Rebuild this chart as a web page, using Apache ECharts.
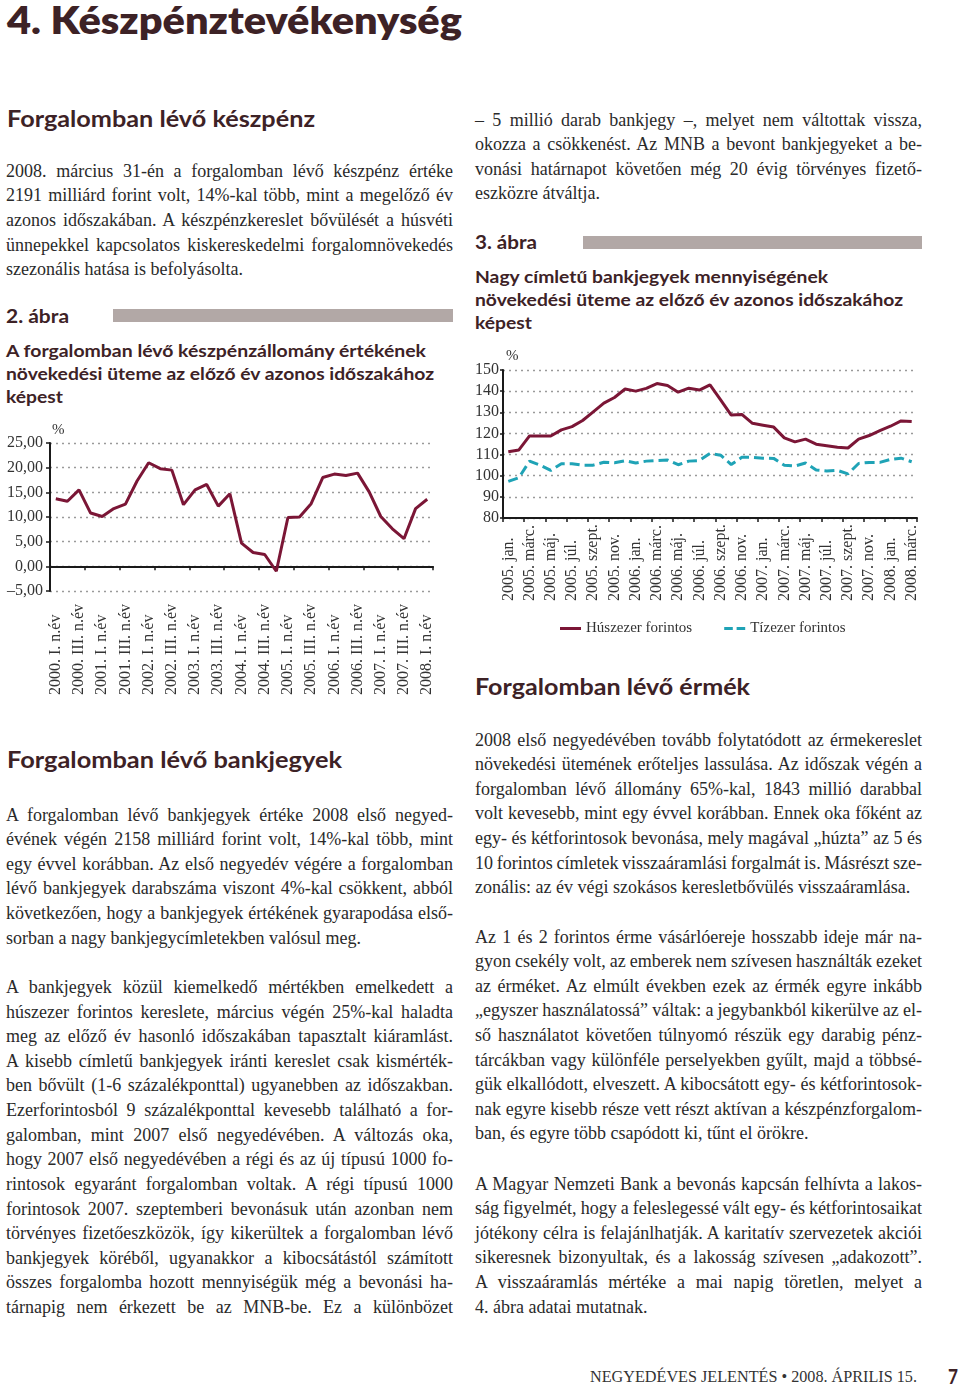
<!DOCTYPE html>
<html><head><meta charset="utf-8">
<script src="https://cdn.jsdelivr.net/npm/echarts@6/dist/echarts.min.js"></script>
<style>
html,body{margin:0;padding:0;background:#fff;}
#page{position:relative;width:960px;height:1391px;overflow:hidden;background:#fff;}
.ln{position:absolute;white-space:nowrap;transform-origin:0 0;}
.body{font-family:"Liberation Serif",serif;font-size:18px;color:#2a2a2a;line-height:20px;}
.h{font-family:Lato,"Open Sans",sans-serif;font-weight:700;color:#3d2226;line-height:1.2;}
.foot{font-family:"Liberation Serif",serif;font-size:16px;color:#333;line-height:20px;}
.bar{position:absolute;background:#b2a8a6;}
.chart{position:absolute;}
</style></head>
<body>
<div id="page">
  <div class="bar" style="left:113px;top:309px;width:340px;height:13px;"></div>
  <div class="bar" style="left:583px;top:236px;width:339px;height:13px;"></div>
  <div id="c2" class="chart" style="left:0px;top:420px;width:460px;height:290px;"></div>
  <div id="c3" class="chart" style="left:470px;top:345px;width:460px;height:300px;"></div>
</div>
<script>
// ---------- chart data ----------
const quarterLabels = [
 '2000. I. n.év','2000. II. n.év','2000. III. n.év','2000. IV. n.év',
 '2001. I. n.év','2001. II. n.év','2001. III. n.év','2001. IV. n.év',
 '2002. I. n.év','2002. II. n.év','2002. III. n.év','2002. IV. n.év',
 '2003. I. n.év','2003. II. n.év','2003. III. n.év','2003. IV. n.év',
 '2004. I. n.év','2004. II. n.év','2004. III. n.év','2004. IV. n.év',
 '2005. I. n.év','2005. II. n.év','2005. III. n.év','2005. IV. n.év',
 '2006. I. n.év','2006. II. n.év','2006. III. n.év','2006. IV. n.év',
 '2007. I. n.év','2007. II. n.év','2007. III. n.év','2007. IV. n.év',
 '2008. I. n.év'];
const cashGrowth = [13.7,13.2,15.5,10.8,10.1,11.7,12.6,17.3,21.0,19.8,19.5,12.5,15.5,16.6,12.2,14.7,
 4.7,2.8,2.4,-1.0,9.9,10.0,12.7,18.0,18.7,18.4,18.9,15.1,10.1,7.6,5.6,11.7,13.6];
const cashTicks = {min:-5, max:25, interval:5};

const monthLabels = [
 '2005. jan.','2005. febr.','2005. márc.','2005. ápr.','2005. máj.','2005. jún.','2005. júl.','2005. aug.','2005. szept.','2005. okt.','2005. nov.','2005. dec.',
 '2006. jan.','2006. febr.','2006. márc.','2006. ápr.','2006. máj.','2006. jún.','2006. júl.','2006. aug.','2006. szept.','2006. okt.','2006. nov.','2006. dec.',
 '2007. jan.','2007. febr.','2007. márc.','2007. ápr.','2007. máj.','2007. jún.','2007. júl.','2007. aug.','2007. szept.','2007. okt.','2007. nov.','2007. dec.',
 '2008. jan.','2008. febr.','2008. márc.'];
const huszezer = [111.3,112.2,118.8,118.8,118.8,121.7,123.2,126.1,130.2,134.3,137.0,141.0,140.0,141.3,143.6,142.7,139.5,141.4,140.5,143.0,
 135.9,128.7,129.0,124.8,123.9,123.0,117.9,116.0,117.3,114.9,114.2,113.5,113.1,117.3,119.0,121.3,123.4,125.9,125.6];
const tizezer = [97.3,99.1,106.9,105.0,102.5,105.7,105.7,105.0,105.0,106.4,106.1,107.1,106.0,106.9,107.2,107.4,105.2,106.9,107.2,110.5,
 109.7,105.3,108.7,108.7,108.3,108.2,105.0,104.6,106.0,102.7,102.2,102.5,100.9,105.8,106.3,106.3,107.7,108.3,106.6];
const seriesNames = ['Húszezer forintos','Tízezer forintos'];
const notesTicks = {min:80, max:150, interval:10};

// ---------- page text ----------
const page = document.getElementById('page');
const C = 1.0;
function line(text, x, base, cls, w, mode, size, weight){
  const d = document.createElement('div');
  d.className = 'ln ' + cls;
  if (size) d.style.fontSize = size + 'px';
  if (weight) d.style.fontWeight = weight;
  const s = document.createElement('span'); s.textContent = text;
  const m = document.createElement('span');
  m.style.cssText = 'display:inline-block;width:0;height:0;vertical-align:baseline';
  d.appendChild(s); d.appendChild(m);
  d.style.left = x + 'px'; d.style.top = '0px';
  page.appendChild(d);
  const off = m.getBoundingClientRect().top - d.getBoundingClientRect().top;
  d.style.top = (base - off) + 'px';
  const n = s.getBoundingClientRect().width;
  let sc = 1;
  if (mode === 'j') {
    const sp = (text.match(/ /g) || []).length;
    let ws = sp ? (w / C - n) / sp : 0;
    if (ws < -1.5) ws = -1.5;
    s.style.wordSpacing = ws + 'px';
    const n2 = s.getBoundingClientRect().width;
    sc = w / n2;
  } else if (mode === 'l') {
    sc = Math.min(C, w / n);
  } else if (mode === 'fit') {
    sc = w / n;
  }
  d.style.transform = 'scaleX(' + sc + ')';
  return d;
}
function para(lines, x, base0, lastJust){
  const W = 447, LH = 24.62;
  lines.forEach((t, i) => {
    const last = i === lines.length - 1 && !lastJust;
    line(t, x, base0 + i * LH, 'body', W, last ? 'l' : 'j');
  });
}
function H(text, x, base, size, w, weight){ return line(text, x, base, 'h', w, 'fit', size, weight); }

H('4. Készpénztevékenység', 7, 33.5, 37, 455, 800);
H('Forgalomban lévő készpénz', 7, 127.3, 22, 308);
H('2. ábra', 6, 322.5, 18, 63);
H('A forgalomban lévő készpénzállomány értékének', 6, 356.5, 17.7, 420);
H('növekedési üteme az előző év azonos időszakához', 6, 379.7, 17.7, 428);
H('képest', 6, 402.9, 17.7, 57);
H('Forgalomban lévő bankjegyek', 7, 768, 22, 335);
H('3. ábra', 475, 249, 18, 62);
H('Nagy címletű bankjegyek mennyiségének', 475, 282.7, 17.7, 353);
H('növekedési üteme az előző év azonos időszakához', 475, 306, 17.7, 428);
H('képest', 475, 329, 17.7, 57);
H('Forgalomban lévő érmék', 475, 695, 22, 275);
H('7', 948, 1384, 20, 10);

para([
 '2008. március 31-én a forgalomban lévő készpénz értéke',
 '2191 milliárd forint volt, 14%-kal több, mint a megelőző év',
 'azonos időszakában. A készpénzkereslet bővülését a húsvéti',
 'ünnepekkel kapcsolatos kiskereskedelmi forgalomnövekedés',
 'szezonális hatása is befolyásolta.'], 6, 176.7, false);
para([
 'A forgalomban lévő bankjegyek értéke 2008 első negyed-',
 'évének végén 2158 milliárd forint volt, 14%-kal több, mint',
 'egy évvel korábban. Az első negyedév végére a forgalomban',
 'lévő bankjegyek darabszáma viszont 4%-kal csökkent, abból',
 'következően, hogy a bankjegyek értékének gyarapodása első-',
 'sorban a nagy bankjegycímletekben valósul meg.'], 6, 820.5, false);
para([
 'A bankjegyek közül kiemelkedő mértékben emelkedett a',
 'húszezer forintos kereslete, március végén 25%-kal haladta',
 'meg az előző év hasonló időszakában tapasztalt kiáramlást.',
 'A kisebb címletű bankjegyek iránti kereslet csak kismérték-',
 'ben bővült (1-6 százalékponttal) ugyanebben az időszakban.',
 'Ezerforintosból 9 százalékponttal kevesebb található a for-',
 'galomban, mint 2007 első negyedévében. A változás oka,',
 'hogy 2007 első negyedévében a régi és az új típusú 1000 fo-',
 'rintosok egyaránt forgalomban voltak. A régi típusú 1000',
 'forintosok 2007. szeptemberi bevonásuk után azonban nem',
 'törvényes fizetőeszközök, így kikerültek a forgalomban lévő',
 'bankjegyek köréből, ugyanakkor a kibocsátástól számított',
 'összes forgalomba hozott mennyiségük még a bevonási ha-',
 'tárnapig nem érkezett be az MNB-be. Ez a különbözet'], 6, 993, true);
para([
 '– 5 millió darab bankjegy –, melyet nem váltottak vissza,',
 'okozza a csökkenést. Az MNB a bevont bankjegyeket a be-',
 'vonási határnapot követően még 20 évig törvényes fizető-',
 'eszközre átváltja.'], 475, 125.5, false);
para([
 '2008 első negyedévében tovább folytatódott az érmekereslet',
 'növekedési ütemének erőteljes lassulása. Az időszak végén a',
 'forgalomban lévő állomány 65%-kal, 1843 millió darabbal',
 'volt kevesebb, mint egy évvel korábban. Ennek oka főként az',
 'egy- és kétforintosok bevonása, mely magával „húzta” az 5 és',
 '10 forintos címletek visszaáramlási forgalmát is. Másrészt sze-',
 'zonális: az év végi szokásos keresletbővülés visszaáramlása.'], 475, 745.5, false);
para([
 'Az 1 és 2 forintos érme vásárlóereje hosszabb ideje már na-',
 'gyon csekély volt, az emberek nem szívesen használták ezeket',
 'az érméket. Az elmúlt években ezek az érmék egyre inkább',
 '„egyszer használatossá” váltak: a jegybankból kikerülve az el-',
 'ső használatot követően túlnyomó részük egy darabig pénz-',
 'tárcákban vagy különféle perselyekben gyűlt, majd a többsé-',
 'gük elkallódott, elveszett. A kibocsátott egy- és kétforintosok-',
 'nak egyre kisebb része vett részt aktívan a készpénzforgalom-',
 'ban, és egyre több csapódott ki, tűnt el örökre.'], 475, 942.5, false);
para([
 'A Magyar Nemzeti Bank a bevonás kapcsán felhívta a lakos-',
 'ság figyelmét, hogy a feleslegessé vált egy- és kétforintosaikat',
 'jótékony célra is felajánlhatják. A karitatív szervezetek akciói',
 'sikeresnek bizonyultak, és a lakosság szívesen „adakozott”.',
 'A visszaáramlás mértéke a mai napig töretlen, melyet a',
 '4. ábra adatai mutatnak.'], 475, 1189.5, false);
line('NEGYEDÉVES JELENTÉS • 2008. ÁPRILIS 15.', 590, 1381.7, 'foot', 327, 'fit');

// ---------- charts ----------
const SERIF = '"Liberation Serif", serif';
const c2 = echarts.init(document.getElementById('c2'), null, {renderer:'canvas'});
c2.setOption({
  animation:false,
  grid:{left:50, right:27, top:23, bottom:119, containLabel:false, outerBoundsMode:'none'},
  xAxis:{
    type:'category', data:quarterLabels, boundaryGap:true,
    axisLine:{lineStyle:{color:'#1a1a1a', width:2}},
    axisTick:{show:true, interval:2, length:4, inside:false, lineStyle:{color:'#1a1a1a', width:1.5}},
    axisLabel:{interval:1, rotate:90, align:'left', verticalAlign:'middle', margin:104, color:'#333', fontFamily:SERIF, fontSize:16}
  },
  yAxis:{
    type:'value', min:cashTicks.min, max:cashTicks.max, interval:cashTicks.interval,
    name:'%', nameLocation:'end', nameGap:5,
    nameTextStyle:{align:'left', verticalAlign:'bottom', color:'#333', fontFamily:SERIF, fontSize:15, padding:[0,0,0,2]},
    axisLine:{show:true, lineStyle:{color:'#1a1a1a', width:2}},
    axisTick:{show:true, length:4, lineStyle:{color:'#1a1a1a', width:1.5}},
    axisLabel:{margin:7, color:'#333', fontFamily:SERIF, fontSize:16,
      formatter:v => (v < 0 ? '–' : '') + Math.abs(v).toFixed(2).replace('.', ',')},
    splitLine:{show:true, lineStyle:{type:[2,4], color:'#9a9a9a', width:1.3}}
  },
  series:[{type:'line', data:cashGrowth, symbol:'none', lineStyle:{color:'#7b1636', width:3}, itemStyle:{color:'#7b1636'}}]
});

const c3 = echarts.init(document.getElementById('c3'), null, {renderer:'canvas'});
c3.setOption({
  animation:false,
  grid:{left:33, right:13, top:25, bottom:127, containLabel:false, outerBoundsMode:'none'},
  legend:{
    data:[{name:seriesNames[0], icon:'rect'},
          {name:seriesNames[1], icon:'path://M0,0H9V3H0Z M13,0H22V3H13Z'}],
    left:85, top:271, itemWidth:21, itemHeight:3, itemGap:32,
    textStyle:{color:'#333', fontFamily:SERIF, fontSize:15}
  },
  xAxis:{
    type:'category', data:monthLabels, boundaryGap:true,
    axisLine:{lineStyle:{color:'#1a1a1a', width:2}},
    axisTick:{show:true, interval:1, length:4, lineStyle:{color:'#1a1a1a', width:1.5}},
    axisLabel:{interval:1, rotate:90, align:'left', verticalAlign:'middle', margin:83, color:'#333', fontFamily:SERIF, fontSize:16}
  },
  yAxis:{
    type:'value', min:notesTicks.min, max:notesTicks.max, interval:notesTicks.interval,
    name:'%', nameLocation:'end', nameGap:6,
    nameTextStyle:{align:'left', verticalAlign:'bottom', color:'#333', fontFamily:SERIF, fontSize:15, padding:[0,0,0,3]},
    axisLine:{show:true, lineStyle:{color:'#1a1a1a', width:2}},
    axisTick:{show:true, length:3, lineStyle:{color:'#1a1a1a', width:1.5}},
    axisLabel:{margin:4, color:'#333', fontFamily:SERIF, fontSize:16},
    splitLine:{show:true, lineStyle:{type:[2,4], color:'#9a9a9a', width:1.3}}
  },
  series:[
    {name:seriesNames[0], type:'line', data:huszezer, symbol:'none', lineStyle:{color:'#7b1636', width:3}, itemStyle:{color:'#7b1636'}},
    {name:seriesNames[1], type:'line', data:tizezer, symbol:'none', lineStyle:{color:'#1fa3b6', width:3, type:[10,5]}, itemStyle:{color:'#1fa3b6'}}
  ]
});
</script>
</body></html>
